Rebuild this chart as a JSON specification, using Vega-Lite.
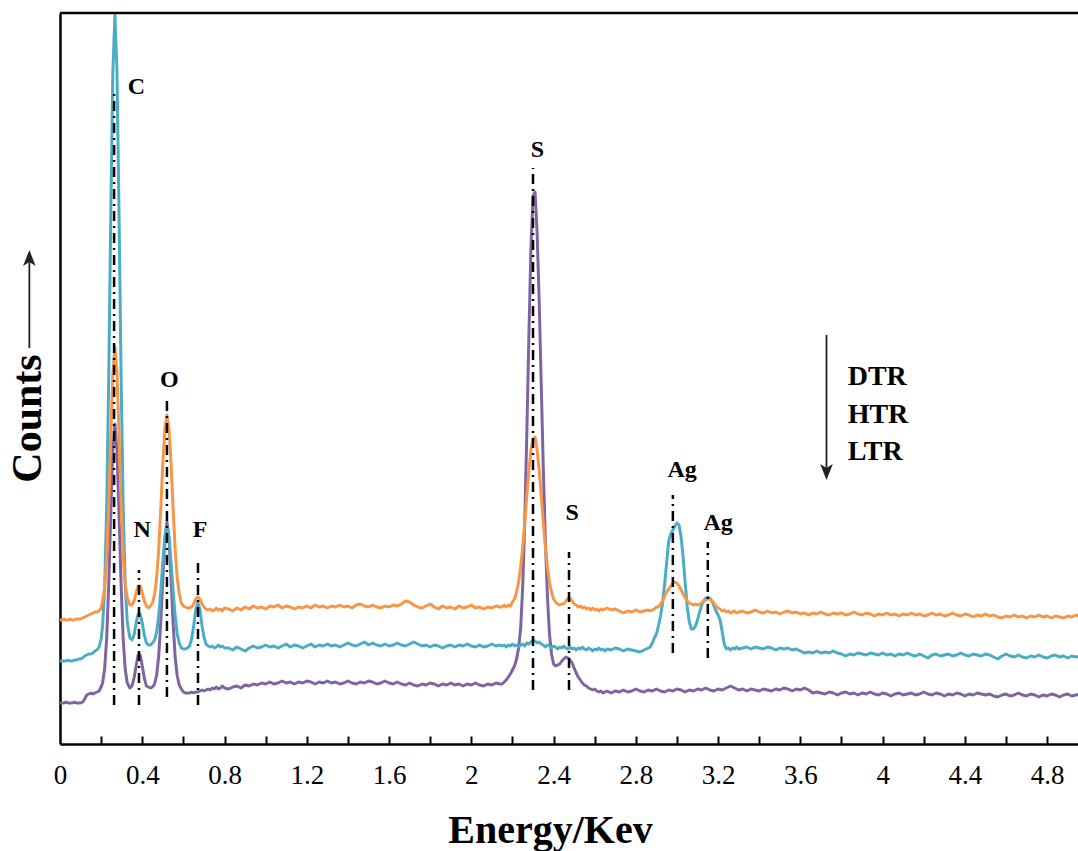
{
"$schema": "https://vega.github.io/schema/vega-lite/v6.json",
"width": 1018, "height": 731,
"autosize": {"type": "none"},
"padding": {"left": 60, "top": 13, "right": 0, "bottom": 107},
"background": "white",
"view": {"stroke": null},
"config": {"font": "Liberation Serif"},
"resolve": {"axis": {"x": "independent", "y": "independent"}},
"datasets": {
"dtr": [
{"e":0,"c":124},{"e":0.01,"c":124},{"e":0.02,"c":125},{"e":0.03,"c":124},{"e":0.04,"c":124},{"e":0.05,"c":125},{"e":0.06,"c":124},{"e":0.07,"c":124},{"e":0.08,"c":125},{"e":0.09,"c":125},{"e":0.1,"c":125},{"e":0.11,"c":126},{"e":0.12,"c":127},{"e":0.13,"c":128},{"e":0.14,"c":129},{"e":0.15,"c":130},{"e":0.16,"c":131},{"e":0.17,"c":132},{"e":0.18,"c":132},{"e":0.19,"c":133},{"e":0.2,"c":136},
{"e":0.207,"c":143},{"e":0.217,"c":156},{"e":0.227,"c":185},{"e":0.237,"c":238},{"e":0.247,"c":308},{"e":0.257,"c":371},{"e":0.267,"c":397},{"e":0.277,"c":372},{"e":0.287,"c":310},{"e":0.297,"c":241},{"e":0.307,"c":189},{"e":0.317,"c":160},{"e":0.327,"c":146},
{"e":0.34,"c":139},{"e":0.35,"c":139},{"e":0.36,"c":143},{"e":0.37,"c":151},{"e":0.38,"c":158},{"e":0.39,"c":158},{"e":0.4,"c":151},{"e":0.41,"c":143},{"e":0.42,"c":138},{"e":0.43,"c":136},{"e":0.44,"c":138},{"e":0.45,"c":141},{"e":0.46,"c":150},{"e":0.47,"c":166},{"e":0.48,"c":195},{"e":0.49,"c":235},{"e":0.5,"c":280},{"e":0.51,"c":315},{"e":0.52,"c":329},{"e":0.53,"c":315},{"e":0.54,"c":280},{"e":0.55,"c":235},{"e":0.56,"c":195},{"e":0.57,"c":166},{"e":0.58,"c":150},{"e":0.59,"c":141},{"e":0.6,"c":138},{"e":0.61,"c":137},{"e":0.62,"c":136},{"e":0.63,"c":136},{"e":0.64,"c":137},{"e":0.65,"c":140},{"e":0.66,"c":145},{"e":0.67,"c":147},{"e":0.68,"c":145},{"e":0.69,"c":140},{"e":0.7,"c":137},{"e":0.71,"c":135},{"e":0.72,"c":134},{"e":0.73,"c":135},{"e":0.74,"c":133},{"e":0.75,"c":134},{"e":0.76,"c":136},{"e":0.77,"c":134},{"e":0.78,"c":135},{"e":0.79,"c":133},{"e":0.8,"c":136},
{"e":0.82,"c":135},{"e":0.84,"c":133},{"e":0.86,"c":136},{"e":0.88,"c":134},{"e":0.9,"c":137},{"e":0.92,"c":135},{"e":0.94,"c":138},{"e":0.96,"c":136},{"e":0.98,"c":137},{"e":1.0,"c":135},{"e":1.02,"c":138},{"e":1.04,"c":137},{"e":1.06,"c":139},{"e":1.08,"c":136},{"e":1.1,"c":138},{"e":1.12,"c":137},{"e":1.14,"c":135},{"e":1.16,"c":137},{"e":1.18,"c":136},{"e":1.2,"c":138},{"e":1.22,"c":136},{"e":1.24,"c":139},{"e":1.26,"c":137},{"e":1.28,"c":138},{"e":1.3,"c":136},{"e":1.32,"c":138},{"e":1.34,"c":137},{"e":1.36,"c":139},{"e":1.38,"c":137},{"e":1.4,"c":138},{"e":1.42,"c":136},{"e":1.44,"c":139},{"e":1.46,"c":140},{"e":1.48,"c":138},{"e":1.5,"c":137},{"e":1.52,"c":139},{"e":1.54,"c":137},{"e":1.56,"c":136},{"e":1.58,"c":138},{"e":1.6,"c":137},{"e":1.62,"c":139},{"e":1.64,"c":138},{"e":1.66,"c":140},{"e":1.68,"c":143},{"e":1.7,"c":142},{"e":1.72,"c":139},{"e":1.74,"c":137},{"e":1.76,"c":136},{"e":1.78,"c":138},{"e":1.8,"c":140},{"e":1.82,"c":137},{"e":1.84,"c":135},{"e":1.86,"c":138},{"e":1.88,"c":136},{"e":1.9,"c":137},{"e":1.92,"c":135},{"e":1.94,"c":138},{"e":1.96,"c":136},{"e":1.98,"c":137},{"e":2.0,"c":139},{"e":2.02,"c":136},{"e":2.04,"c":137},{"e":2.06,"c":135},{"e":2.08,"c":137},{"e":2.1,"c":136},{"e":2.12,"c":138},{"e":2.14,"c":137},
{"e":2.15,"c":137},{"e":2.16,"c":139},{"e":2.17,"c":137},{"e":2.18,"c":139},{"e":2.19,"c":138},{"e":2.2,"c":142},{"e":2.21,"c":145},{"e":2.22,"c":152},{"e":2.23,"c":162},{"e":2.24,"c":177},{"e":2.25,"c":197},{"e":2.26,"c":222},{"e":2.27,"c":249},{"e":2.28,"c":274},{"e":2.29,"c":294},{"e":2.3,"c":305},{"e":2.31,"c":307},{"e":2.32,"c":294},{"e":2.33,"c":274},{"e":2.34,"c":249},{"e":2.35,"c":222},{"e":2.36,"c":197},{"e":2.37,"c":177},{"e":2.38,"c":162},{"e":2.39,"c":152},{"e":2.4,"c":145},{"e":2.41,"c":142},{"e":2.42,"c":140},{"e":2.43,"c":139},{"e":2.44,"c":140},{"e":2.45,"c":140},{"e":2.46,"c":143},{"e":2.47,"c":146},{"e":2.48,"c":146},{"e":2.49,"c":143},{"e":2.5,"c":140},{"e":2.51,"c":139},{"e":2.52,"c":137},{"e":2.53,"c":138},{"e":2.54,"c":136},{"e":2.55,"c":137},{"e":2.56,"c":135},{"e":2.57,"c":136},{"e":2.58,"c":134},{"e":2.59,"c":136},{"e":2.6,"c":134},{"e":2.61,"c":135},{"e":2.62,"c":133},{"e":2.63,"c":135},{"e":2.64,"c":134},{"e":2.65,"c":135},
{"e":2.66,"c":136},{"e":2.68,"c":134},{"e":2.7,"c":135},{"e":2.72,"c":133},{"e":2.74,"c":131},{"e":2.76,"c":133},{"e":2.78,"c":132},{"e":2.8,"c":134},{"e":2.82,"c":132},{"e":2.84,"c":133},{"e":2.86,"c":134},
{"e":2.87,"c":133},{"e":2.88,"c":134},{"e":2.89,"c":135},{"e":2.9,"c":137},{"e":2.91,"c":137},{"e":2.92,"c":140},{"e":2.93,"c":143},{"e":2.94,"c":148},{"e":2.95,"c":152},{"e":2.96,"c":155},{"e":2.97,"c":158},{"e":2.98,"c":161},{"e":2.99,"c":162},{"e":3.0,"c":161},{"e":3.01,"c":158},{"e":3.02,"c":154},{"e":3.03,"c":150},{"e":3.04,"c":146},{"e":3.05,"c":143},{"e":3.06,"c":141},{"e":3.07,"c":140},{"e":3.08,"c":139},{"e":3.09,"c":140},{"e":3.1,"c":139},{"e":3.11,"c":140},{"e":3.12,"c":141},{"e":3.13,"c":143},{"e":3.14,"c":144},{"e":3.15,"c":145},{"e":3.16,"c":145},{"e":3.17,"c":143},{"e":3.18,"c":141},{"e":3.19,"c":138},{"e":3.2,"c":136},{"e":3.21,"c":135},{"e":3.22,"c":133},{"e":3.23,"c":134},{"e":3.24,"c":132},{"e":3.25,"c":133},{"e":3.26,"c":131},{"e":3.27,"c":132},{"e":3.28,"c":133},{"e":3.29,"c":131},{"e":3.3,"c":132},
{"e":3.32,"c":133},{"e":3.34,"c":131},{"e":3.36,"c":132},{"e":3.38,"c":134},{"e":3.4,"c":132},{"e":3.42,"c":131},{"e":3.44,"c":133},{"e":3.46,"c":131},{"e":3.48,"c":132},{"e":3.5,"c":130},{"e":3.52,"c":132},{"e":3.54,"c":133},{"e":3.56,"c":131},{"e":3.58,"c":132},{"e":3.6,"c":130},{"e":3.62,"c":131},{"e":3.64,"c":129},{"e":3.66,"c":131},{"e":3.68,"c":130},{"e":3.7,"c":132},{"e":3.72,"c":130},{"e":3.74,"c":129},{"e":3.76,"c":131},{"e":3.78,"c":130},{"e":3.8,"c":131},{"e":3.82,"c":129},{"e":3.84,"c":130},{"e":3.86,"c":132},{"e":3.88,"c":130},{"e":3.9,"c":129},{"e":3.92,"c":131},{"e":3.94,"c":130},{"e":3.96,"c":128},{"e":3.98,"c":130},{"e":4.0,"c":129},{"e":4.02,"c":131},{"e":4.04,"c":129},{"e":4.06,"c":130},{"e":4.08,"c":128},{"e":4.1,"c":130},{"e":4.12,"c":129},{"e":4.14,"c":131},{"e":4.16,"c":129},{"e":4.18,"c":130},{"e":4.2,"c":128},{"e":4.22,"c":129},{"e":4.24,"c":131},{"e":4.26,"c":129},{"e":4.28,"c":130},{"e":4.3,"c":128},{"e":4.32,"c":129},{"e":4.34,"c":131},{"e":4.36,"c":129},{"e":4.38,"c":128},{"e":4.4,"c":130},{"e":4.42,"c":129},{"e":4.44,"c":127},{"e":4.46,"c":129},{"e":4.48,"c":128},{"e":4.5,"c":130},{"e":4.52,"c":128},{"e":4.54,"c":129},{"e":4.56,"c":127},{"e":4.58,"c":126},{"e":4.6,"c":128},{"e":4.62,"c":127},{"e":4.64,"c":129},{"e":4.66,"c":127},{"e":4.68,"c":128},{"e":4.7,"c":126},{"e":4.72,"c":128},{"e":4.74,"c":127},{"e":4.76,"c":129},{"e":4.78,"c":127},{"e":4.8,"c":128},{"e":4.82,"c":126},{"e":4.84,"c":128},{"e":4.86,"c":127},{"e":4.88,"c":126},{"e":4.9,"c":128},{"e":4.92,"c":127},{"e":4.94,"c":129},{"e":4.96,"c":127}
],
"htr": [
{"e":0,"c":83},{"e":0.01,"c":83},{"e":0.02,"c":83},{"e":0.03,"c":83},{"e":0.04,"c":84},{"e":0.05,"c":83},{"e":0.06,"c":83},{"e":0.07,"c":84},{"e":0.08,"c":84},{"e":0.09,"c":85},{"e":0.1,"c":85},{"e":0.11,"c":86},{"e":0.12,"c":88},{"e":0.13,"c":89},{"e":0.14,"c":90},{"e":0.15,"c":90},{"e":0.16,"c":91},{"e":0.17,"c":93},{"e":0.18,"c":94},{"e":0.19,"c":97},{"e":0.2,"c":105},
{"e":0.207,"c":118},{"e":0.217,"c":156},{"e":0.227,"c":236},{"e":0.237,"c":367},{"e":0.247,"c":530},{"e":0.257,"c":672},{"e":0.267,"c":729},{"e":0.277,"c":673},{"e":0.287,"c":531},{"e":0.297,"c":369},{"e":0.307,"c":239},{"e":0.317,"c":160},{"e":0.327,"c":122},
{"e":0.34,"c":106},{"e":0.35,"c":104},{"e":0.36,"c":109},{"e":0.37,"c":121},{"e":0.38,"c":130},{"e":0.39,"c":130},{"e":0.4,"c":121},{"e":0.41,"c":109},{"e":0.42,"c":101},{"e":0.43,"c":99},{"e":0.44,"c":99},{"e":0.45,"c":101},{"e":0.46,"c":104},{"e":0.47,"c":112},{"e":0.48,"c":128},{"e":0.49,"c":153},{"e":0.5,"c":182},{"e":0.51,"c":207},{"e":0.52,"c":217},{"e":0.53,"c":207},{"e":0.54,"c":182},{"e":0.55,"c":153},{"e":0.56,"c":128},{"e":0.57,"c":110},{"e":0.58,"c":101},{"e":0.59,"c":96},{"e":0.6,"c":95},{"e":0.61,"c":95},{"e":0.62,"c":96},{"e":0.63,"c":98},{"e":0.64,"c":105},{"e":0.65,"c":118},{"e":0.66,"c":134},{"e":0.67,"c":141},{"e":0.68,"c":135},{"e":0.69,"c":119},{"e":0.7,"c":107},{"e":0.71,"c":100},{"e":0.72,"c":98},{"e":0.73,"c":97},{"e":0.74,"c":98},{"e":0.75,"c":96},{"e":0.76,"c":97},{"e":0.77,"c":99},{"e":0.78,"c":97},{"e":0.79,"c":98},{"e":0.8,"c":96},
{"e":0.82,"c":96},{"e":0.84,"c":94},{"e":0.86,"c":97},{"e":0.88,"c":95},{"e":0.9,"c":93},{"e":0.92,"c":96},{"e":0.94,"c":98},{"e":0.96,"c":96},{"e":0.98,"c":97},{"e":1.0,"c":99},{"e":1.02,"c":97},{"e":1.04,"c":98},{"e":1.06,"c":96},{"e":1.08,"c":98},{"e":1.1,"c":100},{"e":1.12,"c":97},{"e":1.14,"c":99},{"e":1.16,"c":98},{"e":1.18,"c":96},{"e":1.2,"c":98},{"e":1.22,"c":100},{"e":1.24,"c":97},{"e":1.26,"c":99},{"e":1.28,"c":98},{"e":1.3,"c":100},{"e":1.32,"c":98},{"e":1.34,"c":99},{"e":1.36,"c":97},{"e":1.38,"c":99},{"e":1.4,"c":101},{"e":1.42,"c":99},{"e":1.44,"c":98},{"e":1.46,"c":100},{"e":1.48,"c":102},{"e":1.5,"c":99},{"e":1.52,"c":101},{"e":1.54,"c":99},{"e":1.56,"c":98},{"e":1.58,"c":100},{"e":1.6,"c":98},{"e":1.62,"c":99},{"e":1.64,"c":101},{"e":1.66,"c":99},{"e":1.68,"c":98},{"e":1.7,"c":100},{"e":1.72,"c":102},{"e":1.74,"c":100},{"e":1.76,"c":98},{"e":1.78,"c":99},{"e":1.8,"c":97},{"e":1.82,"c":99},{"e":1.84,"c":98},{"e":1.86,"c":96},{"e":1.88,"c":98},{"e":1.9,"c":99},{"e":1.92,"c":97},{"e":1.94,"c":99},{"e":1.96,"c":98},{"e":1.98,"c":100},{"e":2.0,"c":98},{"e":2.02,"c":97},{"e":2.04,"c":99},{"e":2.06,"c":97},{"e":2.08,"c":98},{"e":2.1,"c":100},{"e":2.12,"c":98},{"e":2.14,"c":99},
{"e":2.15,"c":98},{"e":2.16,"c":99},{"e":2.17,"c":97},{"e":2.18,"c":99},{"e":2.19,"c":98},{"e":2.2,"c":100},{"e":2.21,"c":98},{"e":2.22,"c":99},{"e":2.23,"c":97},{"e":2.24,"c":99},{"e":2.25,"c":100},{"e":2.26,"c":98},{"e":2.27,"c":101},{"e":2.28,"c":100},{"e":2.29,"c":102},{"e":2.3,"c":104},{"e":2.31,"c":103},{"e":2.32,"c":101},{"e":2.33,"c":102},{"e":2.34,"c":100},{"e":2.35,"c":99},{"e":2.36,"c":97},{"e":2.37,"c":99},{"e":2.38,"c":98},{"e":2.39,"c":96},{"e":2.4,"c":98},{"e":2.41,"c":97},{"e":2.42,"c":95},{"e":2.43,"c":97},{"e":2.44,"c":96},{"e":2.45,"c":98},{"e":2.46,"c":96},{"e":2.47,"c":95},{"e":2.48,"c":97},{"e":2.49,"c":95},{"e":2.5,"c":96},{"e":2.51,"c":94},{"e":2.52,"c":96},{"e":2.53,"c":95},{"e":2.54,"c":97},{"e":2.55,"c":95},{"e":2.56,"c":94},{"e":2.57,"c":96},{"e":2.58,"c":95},{"e":2.59,"c":93},{"e":2.6,"c":95},{"e":2.61,"c":94},{"e":2.62,"c":96},{"e":2.63,"c":94},{"e":2.64,"c":95},{"e":2.65,"c":93},
{"e":2.66,"c":95},{"e":2.68,"c":94},{"e":2.7,"c":96},{"e":2.72,"c":95},{"e":2.74,"c":93},{"e":2.76,"c":95},{"e":2.78,"c":94},{"e":2.8,"c":93},{"e":2.82,"c":92},{"e":2.84,"c":94},{"e":2.86,"c":96},
{"e":2.87,"c":97},{"e":2.88,"c":101},{"e":2.89,"c":106},{"e":2.9,"c":110},{"e":2.91,"c":118},{"e":2.92,"c":128},{"e":2.93,"c":141},{"e":2.94,"c":160},{"e":2.95,"c":182},{"e":2.96,"c":203},{"e":2.97,"c":210},{"e":2.98,"c":214},{"e":2.99,"c":218},{"e":3.0,"c":221},{"e":3.01,"c":219},{"e":3.02,"c":207},{"e":3.03,"c":187},{"e":3.04,"c":161},{"e":3.05,"c":137},{"e":3.06,"c":122},{"e":3.07,"c":115},{"e":3.08,"c":115},{"e":3.09,"c":118},{"e":3.1,"c":124},{"e":3.11,"c":132},{"e":3.12,"c":139},{"e":3.13,"c":143},{"e":3.14,"c":146},{"e":3.15,"c":147},{"e":3.16,"c":146},{"e":3.17,"c":143},{"e":3.18,"c":138},{"e":3.19,"c":133},{"e":3.2,"c":129},{"e":3.21,"c":124},{"e":3.22,"c":112},{"e":3.23,"c":100},{"e":3.24,"c":95},{"e":3.25,"c":96},{"e":3.26,"c":94},{"e":3.27,"c":96},{"e":3.28,"c":95},{"e":3.29,"c":97},{"e":3.3,"c":95},
{"e":3.32,"c":96},{"e":3.34,"c":97},{"e":3.36,"c":95},{"e":3.38,"c":97},{"e":3.4,"c":96},{"e":3.42,"c":95},{"e":3.44,"c":97},{"e":3.46,"c":96},{"e":3.48,"c":94},{"e":3.5,"c":96},{"e":3.52,"c":95},{"e":3.54,"c":96},{"e":3.56,"c":94},{"e":3.58,"c":95},{"e":3.6,"c":93},{"e":3.62,"c":91},{"e":3.64,"c":92},{"e":3.66,"c":91},{"e":3.68,"c":93},{"e":3.7,"c":91},{"e":3.72,"c":92},{"e":3.74,"c":91},{"e":3.76,"c":93},{"e":3.78,"c":91},{"e":3.8,"c":90},{"e":3.82,"c":88},{"e":3.84,"c":90},{"e":3.86,"c":89},{"e":3.88,"c":91},{"e":3.9,"c":90},{"e":3.92,"c":89},{"e":3.94,"c":91},{"e":3.96,"c":90},{"e":3.98,"c":89},{"e":4.0,"c":91},{"e":4.02,"c":89},{"e":4.04,"c":90},{"e":4.06,"c":88},{"e":4.08,"c":90},{"e":4.1,"c":89},{"e":4.12,"c":91},{"e":4.14,"c":89},{"e":4.16,"c":88},{"e":4.18,"c":90},{"e":4.2,"c":88},{"e":4.22,"c":86},{"e":4.24,"c":89},{"e":4.26,"c":90},{"e":4.28,"c":88},{"e":4.3,"c":89},{"e":4.32,"c":90},{"e":4.34,"c":88},{"e":4.36,"c":89},{"e":4.38,"c":91},{"e":4.4,"c":89},{"e":4.42,"c":88},{"e":4.44,"c":90},{"e":4.46,"c":89},{"e":4.48,"c":88},{"e":4.5,"c":90},{"e":4.52,"c":89},{"e":4.54,"c":87},{"e":4.56,"c":85},{"e":4.58,"c":88},{"e":4.6,"c":90},{"e":4.62,"c":88},{"e":4.64,"c":87},{"e":4.66,"c":89},{"e":4.68,"c":87},{"e":4.7,"c":86},{"e":4.72,"c":88},{"e":4.74,"c":87},{"e":4.76,"c":89},{"e":4.78,"c":87},{"e":4.8,"c":86},{"e":4.82,"c":88},{"e":4.84,"c":89},{"e":4.86,"c":87},{"e":4.88,"c":88},{"e":4.9,"c":86},{"e":4.92,"c":88},{"e":4.94,"c":87},{"e":4.96,"c":88}
],
"ltr": [
{"e":0,"c":41},{"e":0.01,"c":41},{"e":0.02,"c":41},{"e":0.03,"c":42},{"e":0.04,"c":41},{"e":0.05,"c":41},{"e":0.06,"c":41},{"e":0.07,"c":42},{"e":0.08,"c":41},{"e":0.09,"c":41},{"e":0.1,"c":41},{"e":0.11,"c":42},{"e":0.12,"c":45},{"e":0.13,"c":49},{"e":0.14,"c":50},{"e":0.15,"c":51},{"e":0.16,"c":50},{"e":0.17,"c":51},{"e":0.18,"c":52},{"e":0.19,"c":53},{"e":0.2,"c":57},
{"e":0.207,"c":61},{"e":0.217,"c":75},{"e":0.227,"c":106},{"e":0.237,"c":160},{"e":0.247,"c":230},{"e":0.257,"c":294},{"e":0.267,"c":320},{"e":0.277,"c":294},{"e":0.287,"c":230},{"e":0.297,"c":160},{"e":0.307,"c":106},{"e":0.317,"c":75},{"e":0.327,"c":61},
{"e":0.34,"c":56},{"e":0.35,"c":58},{"e":0.36,"c":66},{"e":0.37,"c":78},{"e":0.38,"c":89},{"e":0.39,"c":89},{"e":0.4,"c":78},{"e":0.41,"c":66},{"e":0.42,"c":58},{"e":0.43,"c":57},{"e":0.44,"c":56},{"e":0.45,"c":57},{"e":0.46,"c":60},{"e":0.47,"c":69},{"e":0.48,"c":88},{"e":0.49,"c":122},{"e":0.5,"c":165},{"e":0.51,"c":206},{"e":0.52,"c":222},{"e":0.53,"c":206},{"e":0.54,"c":165},{"e":0.55,"c":121},{"e":0.56,"c":87},{"e":0.57,"c":68},{"e":0.58,"c":59},{"e":0.59,"c":55},{"e":0.6,"c":52},{"e":0.61,"c":51},{"e":0.62,"c":51},{"e":0.63,"c":51},{"e":0.64,"c":52},{"e":0.65,"c":51},{"e":0.66,"c":52},{"e":0.67,"c":52},{"e":0.68,"c":53},{"e":0.69,"c":54},{"e":0.7,"c":53},{"e":0.71,"c":54},{"e":0.72,"c":55},{"e":0.73,"c":54},{"e":0.74,"c":56},{"e":0.75,"c":55},{"e":0.76,"c":57},{"e":0.77,"c":55},{"e":0.78,"c":56},{"e":0.79,"c":58},{"e":0.8,"c":56},
{"e":0.82,"c":55},{"e":0.84,"c":57},{"e":0.86,"c":58},{"e":0.88,"c":56},{"e":0.9,"c":59},{"e":0.92,"c":58},{"e":0.94,"c":60},{"e":0.96,"c":59},{"e":0.98,"c":61},{"e":1.0,"c":60},{"e":1.02,"c":62},{"e":1.04,"c":60},{"e":1.06,"c":61},{"e":1.08,"c":63},{"e":1.1,"c":61},{"e":1.12,"c":62},{"e":1.14,"c":60},{"e":1.16,"c":62},{"e":1.18,"c":61},{"e":1.2,"c":63},{"e":1.22,"c":62},{"e":1.24,"c":60},{"e":1.26,"c":62},{"e":1.28,"c":61},{"e":1.3,"c":63},{"e":1.32,"c":61},{"e":1.34,"c":62},{"e":1.36,"c":60},{"e":1.38,"c":61},{"e":1.4,"c":63},{"e":1.42,"c":61},{"e":1.44,"c":60},{"e":1.46,"c":62},{"e":1.48,"c":61},{"e":1.5,"c":63},{"e":1.52,"c":62},{"e":1.54,"c":60},{"e":1.56,"c":61},{"e":1.58,"c":63},{"e":1.6,"c":61},{"e":1.62,"c":60},{"e":1.64,"c":62},{"e":1.66,"c":60},{"e":1.68,"c":59},{"e":1.7,"c":61},{"e":1.72,"c":59},{"e":1.74,"c":58},{"e":1.76,"c":60},{"e":1.78,"c":59},{"e":1.8,"c":61},{"e":1.82,"c":60},{"e":1.84,"c":58},{"e":1.86,"c":60},{"e":1.88,"c":59},{"e":1.9,"c":61},{"e":1.92,"c":59},{"e":1.94,"c":60},{"e":1.96,"c":58},{"e":1.98,"c":60},{"e":2.0,"c":59},{"e":2.02,"c":61},{"e":2.04,"c":59},{"e":2.06,"c":58},{"e":2.08,"c":60},{"e":2.1,"c":59},{"e":2.12,"c":61},{"e":2.14,"c":60},
{"e":2.15,"c":60},{"e":2.16,"c":62},{"e":2.17,"c":64},{"e":2.18,"c":67},{"e":2.19,"c":70},{"e":2.2,"c":74},{"e":2.21,"c":78},{"e":2.22,"c":85},{"e":2.23,"c":96},{"e":2.24,"c":116},{"e":2.25,"c":158},{"e":2.26,"c":224},{"e":2.27,"c":311},{"e":2.28,"c":409},{"e":2.29,"c":496},{"e":2.3,"c":548},{"e":2.31,"c":552},{"e":2.32,"c":511},{"e":2.33,"c":443},{"e":2.34,"c":360},{"e":2.35,"c":276},{"e":2.36,"c":204},{"e":2.37,"c":148},{"e":2.38,"c":110},{"e":2.39,"c":90},{"e":2.4,"c":80},{"e":2.41,"c":78},{"e":2.42,"c":79},{"e":2.43,"c":80},{"e":2.44,"c":83},{"e":2.45,"c":85},{"e":2.46,"c":87},{"e":2.47,"c":86},{"e":2.48,"c":84},{"e":2.49,"c":81},{"e":2.5,"c":76},{"e":2.51,"c":71},{"e":2.52,"c":67},{"e":2.53,"c":64},{"e":2.54,"c":61},{"e":2.55,"c":59},{"e":2.56,"c":58},{"e":2.57,"c":56},{"e":2.58,"c":55},{"e":2.59,"c":54},{"e":2.6,"c":55},{"e":2.61,"c":53},{"e":2.62,"c":52},{"e":2.63,"c":53},{"e":2.64,"c":51},{"e":2.65,"c":52},
{"e":2.66,"c":53},{"e":2.68,"c":51},{"e":2.7,"c":53},{"e":2.72,"c":52},{"e":2.74,"c":54},{"e":2.76,"c":52},{"e":2.78,"c":53},{"e":2.8,"c":55},{"e":2.82,"c":53},{"e":2.84,"c":52},{"e":2.86,"c":54},{"e":2.88,"c":53},{"e":2.9,"c":55},{"e":2.92,"c":53},{"e":2.94,"c":52},{"e":2.96,"c":54},{"e":2.98,"c":53},{"e":3.0,"c":55},{"e":3.02,"c":54},{"e":3.04,"c":52},{"e":3.06,"c":54},{"e":3.08,"c":53},{"e":3.1,"c":55},{"e":3.12,"c":54},{"e":3.14,"c":56},{"e":3.16,"c":54},{"e":3.18,"c":53},{"e":3.2,"c":55},{"e":3.22,"c":54},{"e":3.24,"c":56},{"e":3.26,"c":58},{"e":3.28,"c":56},{"e":3.3,"c":54},{"e":3.32,"c":55},{"e":3.34,"c":53},{"e":3.36,"c":55},{"e":3.38,"c":54},{"e":3.4,"c":53},{"e":3.42,"c":55},{"e":3.44,"c":54},{"e":3.46,"c":53},{"e":3.48,"c":55},{"e":3.5,"c":54},{"e":3.52,"c":56},{"e":3.54,"c":55},{"e":3.56,"c":53},{"e":3.58,"c":55},{"e":3.6,"c":54},{"e":3.62,"c":56},{"e":3.64,"c":54},{"e":3.66,"c":51},{"e":3.68,"c":52},{"e":3.7,"c":51},{"e":3.72,"c":50},{"e":3.74,"c":52},{"e":3.76,"c":51},{"e":3.78,"c":49},{"e":3.8,"c":51},{"e":3.82,"c":52},{"e":3.84,"c":50},{"e":3.86,"c":51},{"e":3.88,"c":49},{"e":3.9,"c":51},{"e":3.92,"c":50},{"e":3.94,"c":52},{"e":3.96,"c":50},{"e":3.98,"c":49},{"e":4.0,"c":51},{"e":4.02,"c":50},{"e":4.04,"c":48},{"e":4.06,"c":50},{"e":4.08,"c":51},{"e":4.1,"c":49},{"e":4.12,"c":50},{"e":4.14,"c":51},{"e":4.16,"c":49},{"e":4.18,"c":50},{"e":4.2,"c":52},{"e":4.22,"c":50},{"e":4.24,"c":49},{"e":4.26,"c":51},{"e":4.28,"c":50},{"e":4.3,"c":48},{"e":4.32,"c":50},{"e":4.34,"c":49},{"e":4.36,"c":51},{"e":4.38,"c":50},{"e":4.4,"c":48},{"e":4.42,"c":50},{"e":4.44,"c":49},{"e":4.46,"c":51},{"e":4.48,"c":50},{"e":4.5,"c":49},{"e":4.52,"c":50},{"e":4.54,"c":48},{"e":4.56,"c":47},{"e":4.58,"c":49},{"e":4.6,"c":50},{"e":4.62,"c":48},{"e":4.64,"c":49},{"e":4.66,"c":51},{"e":4.68,"c":49},{"e":4.7,"c":48},{"e":4.72,"c":50},{"e":4.74,"c":49},{"e":4.76,"c":47},{"e":4.78,"c":49},{"e":4.8,"c":48},{"e":4.82,"c":50},{"e":4.84,"c":49},{"e":4.86,"c":47},{"e":4.88,"c":49},{"e":4.9,"c":50},{"e":4.92,"c":48},{"e":4.94,"c":49},{"e":4.96,"c":50}
],
"dashes": [
{"el":"C","e":0.263,"y1":39,"y2":651},
{"el":"N","e":0.384,"y1":39,"y2":174},
{"el":"O","e":0.52,"y1":47,"y2":346},
{"el":"F","e":0.671,"y1":39,"y2":186},
{"el":"S","e":2.30,"y1":54,"y2":576},
{"el":"S","e":2.475,"y1":54,"y2":192},
{"el":"Ag","e":2.98,"y1":91,"y2":249},
{"el":"Ag","e":3.15,"y1":86,"y2":202}
],
"labels": [
{"t":"C","e":0.372,"c":650},
{"t":"N","e":0.400,"c":207},
{"t":"O","e":0.531,"c":357},
{"t":"F","e":0.681,"c":207},
{"t":"S","e":2.322,"c":587},
{"t":"S","e":2.490,"c":224},
{"t":"Ag","e":3.025,"c":267},
{"t":"Ag","e":3.200,"c":214}
],
"legend": [
{"t":"DTR","e":3.83,"c":359},
{"t":"HTR","e":3.83,"c":321},
{"t":"LTR","e":3.83,"c":284}
],
"shafts": [
{"e":-0.149,"y1":396,"y2":484},
{"e":3.727,"y1":276,"y2":409}
],
"heads": [
{"e":-0.149,"c":486,"dir":"up"},
{"e":3.727,"c":272,"dir":"down"}
],
"frame": [{"c":731}]
},
"layer": [
{
"data": {"name": "ltr"},
"mark": {"type": "line", "color": "#8064A2", "strokeWidth": 3, "clip": true, "strokeJoin": "round"},
"encoding": {
"x": {"field": "e", "type": "quantitative", "scale": {"domain": [0, 4.95], "nice": false, "zero": false},
"axis": {"orient": "bottom", "title": "Energy/Kev", "titleFontSize": 40, "titleFontWeight": "bold", "titleColor": "black", "titleX": 490, "titleY": 98, "titleAlign": "center", "titleBaseline": "alphabetic",
"values": [0,0.4,0.8,1.2,1.6,2,2.4,2.8,3.2,3.6,4,4.4,4.8],
"format": ".1~f",
"labelFontSize": 27, "labelColor": "black", "labelPadding": 18, "labelFlush": false, "labelOverlap": false,
"ticks": false, "domainColor": "black", "domainWidth": 2.5, "grid": false}},
"y": {"field": "c", "type": "quantitative", "scale": {"domain": [0, 731], "nice": false, "zero": false},
"axis": {"orient": "left", "title": "Counts", "titleFontSize": 42, "titleFontWeight": "bold", "titleColor": "black", "titleX": -20, "titleY": 405, "titleAngle": 270, "titleAlign": "center", "titleBaseline": "alphabetic",
"ticks": false, "labels": false, "grid": false, "domainColor": "black", "domainWidth": 2.5}}
}
},
{
"data": {"name": "htr"},
"mark": {"type": "line", "color": "#4BACC6", "strokeWidth": 3, "clip": true, "strokeJoin": "round"},
"encoding": {
"x": {"field": "e", "type": "quantitative", "scale": {"domain": [0, 4.95], "nice": false, "zero": false},
"axis": {"orient": "bottom", "offset": -8, "title": null, "labels": false, "domain": false, "grid": false,
"values": [0.2,0.4,0.6,0.8,1,1.2,1.4,1.6,1.8,2,2.2,2.4,2.6,2.8,3,3.2,3.4,3.6,3.8,4,4.2,4.4,4.6,4.8],
"ticks": true, "tickSize": 8, "tickWidth": 2, "tickColor": "black"}},
"y": {"field": "c", "type": "quantitative", "scale": {"domain": [0, 731], "nice": false, "zero": false}, "axis": null}
}
},
{
"data": {"name": "dtr"},
"mark": {"type": "line", "color": "#F79646", "strokeWidth": 3, "clip": true, "strokeJoin": "round"},
"encoding": {
"x": {"field": "e", "type": "quantitative", "scale": {"domain": [0, 4.95], "nice": false, "zero": false}, "axis": null},
"y": {"field": "c", "type": "quantitative", "scale": {"domain": [0, 731], "nice": false, "zero": false}, "axis": null}
}
},
{
"data": {"name": "frame"},
"mark": {"type": "rule", "color": "black", "strokeWidth": 2.5},
"encoding": {
"y": {"field": "c", "type": "quantitative", "scale": {"domain": [0, 731], "nice": false, "zero": false}, "axis": null}
}
},
{
"data": {"name": "dashes"},
"mark": {"type": "rule", "color": "black", "strokeWidth": 2.5, "strokeDash": [10, 5, 2, 5]},
"encoding": {
"x": {"field": "e", "type": "quantitative", "scale": {"domain": [0, 4.95], "nice": false, "zero": false}, "axis": null},
"y": {"field": "y1", "type": "quantitative", "scale": {"domain": [0, 731], "nice": false, "zero": false}, "axis": null},
"y2": {"field": "y2"}
}
},
{
"data": {"name": "labels"},
"mark": {"type": "text", "font": "Liberation Serif", "fontSize": 24, "fontWeight": "bold", "color": "black", "align": "center", "baseline": "alphabetic"},
"encoding": {
"x": {"field": "e", "type": "quantitative", "scale": {"domain": [0, 4.95], "nice": false, "zero": false}, "axis": null},
"y": {"field": "c", "type": "quantitative", "scale": {"domain": [0, 731], "nice": false, "zero": false}, "axis": null},
"text": {"field": "t"}
}
},
{
"data": {"name": "legend"},
"mark": {"type": "text", "font": "Liberation Serif", "fontSize": 28, "fontWeight": "bold", "color": "black", "align": "left", "baseline": "alphabetic"},
"encoding": {
"x": {"field": "e", "type": "quantitative", "scale": {"domain": [0, 4.95], "nice": false, "zero": false}, "axis": null},
"y": {"field": "c", "type": "quantitative", "scale": {"domain": [0, 731], "nice": false, "zero": false}, "axis": null},
"text": {"field": "t"}
}
},
{
"data": {"name": "shafts"},
"mark": {"type": "rule", "color": "#222222", "strokeWidth": 1.8},
"encoding": {
"x": {"field": "e", "type": "quantitative", "scale": {"domain": [0, 4.95], "nice": false, "zero": false}, "axis": null},
"y": {"field": "y1", "type": "quantitative", "scale": {"domain": [0, 731], "nice": false, "zero": false}, "axis": null},
"y2": {"field": "y2"}
}
},
{
"data": {"name": "heads"},
"mark": {"type": "point", "filled": true, "color": "#222222", "size": 250, "opacity": 1, "strokeWidth": 0},
"encoding": {
"x": {"field": "e", "type": "quantitative", "scale": {"domain": [0, 4.95], "nice": false, "zero": false}, "axis": null},
"y": {"field": "c", "type": "quantitative", "scale": {"domain": [0, 731], "nice": false, "zero": false}, "axis": null},
"shape": {"field": "dir", "type": "nominal", "scale": {"domain": ["up", "down"], "range": ["M-0.8,1L0,0.5L0.8,1L0,-1Z", "M-0.8,-1L0,-0.5L0.8,-1L0,1Z"]}, "legend": null}
}
}
]
}
